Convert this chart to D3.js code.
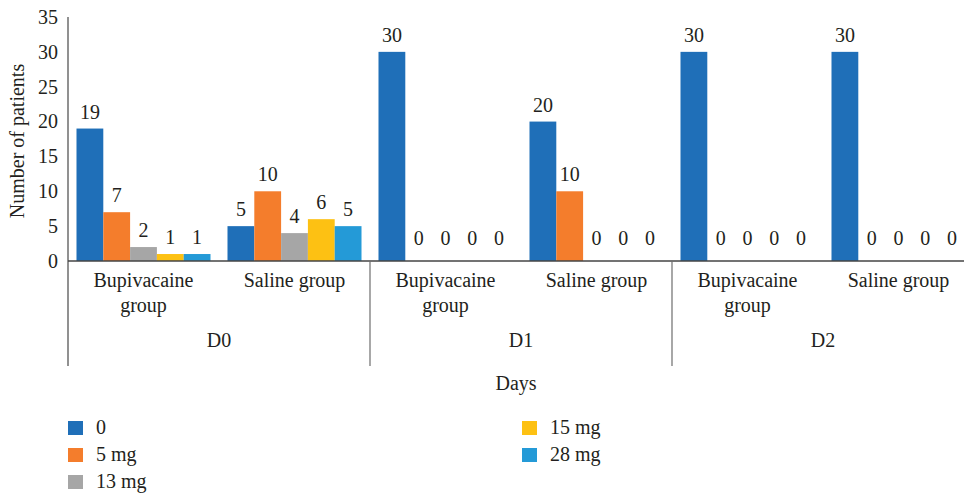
<!DOCTYPE html>
<html>
<head>
<meta charset="utf-8">
<script src="https://cdn.jsdelivr.net/npm/d3@7"></script>
<style>
  html, body { margin: 0; padding: 0; background: #fff; }
  svg { display: block; }
  text { font-family: "Liberation Serif", "DejaVu Serif", serif; fill: #231f20; }
</style>
</head>
<body>
<svg id="chart" width="964" height="493"></svg>
<script>
// Categories
const days = ["D0", "D1", "D2"];
const groups = ["Bupivacaine group", "Saline group"];
const doses = ["0", "5 mg", "13 mg", "15 mg", "28 mg"];
const doseColors = ["#1f6fb8", "#f47d2c", "#a6a6a6", "#fdc113", "#249ad7"];

// Patient counts per dose, ordered D0 Bupivacaine, D0 Saline, D1 Bupivacaine, D1 Saline, D2 Bupivacaine, D2 Saline
const dose0 = [19, 5, 30, 20, 30, 30];
const dose5 = [7, 10, 0, 10, 0, 0];
const dose13 = [2, 4, 0, 0, 0, 0];
const dose15 = [1, 6, 0, 0, 0, 0];
const dose28 = [1, 5, 0, 0, 0, 0];
const yTicks = [0, 5, 10, 15, 20, 25, 30, 35];

const seriesValues = [dose0, dose5, dose13, dose15, dose28];
const cells = [];
days.forEach(d => groups.forEach(g => cells.push({ day: d, group: g, key: d + "|" + g })));

const svg = d3.select("#chart");
const plotLeft = 68, plotRight = 974, plotTop = 17, plotBottom = 261;
const fontSize = 20;

const x = d3.scaleBand().domain(cells.map(c => c.key)).range([plotLeft, plotRight]);
const xDay = d3.scaleBand().domain(days).range([plotLeft, plotRight]);
const xDose = d3.scaleBand().domain(doses).range([0, x.bandwidth()]).paddingOuter(0.317);
const y = d3.scaleLinear().domain([0, 35]).range([plotBottom, plotTop]);

// Bars
const barData = [];
cells.forEach((c, i) => doses.forEach((s, j) => barData.push({ cell: c.key, dose: s, color: doseColors[j], value: seriesValues[j][i] })));

svg.append("g").selectAll("rect").data(barData).join("rect")
  .attr("x", d => x(d.cell) + xDose(d.dose))
  .attr("y", d => y(d.value))
  .attr("width", xDose.bandwidth())
  .attr("height", d => y(0) - y(d.value))
  .attr("fill", d => d.color);

// Value labels
svg.append("g").selectAll("text").data(barData).join("text")
  .attr("x", d => x(d.cell) + xDose(d.dose) + xDose.bandwidth() / 2)
  .attr("y", d => y(d.value) - (d.value === 0 ? 16 : 10))
  .attr("text-anchor", "middle")
  .attr("font-size", fontSize)
  .text(d => d.value);

// Y axis
const yAxis = d3.axisLeft(y).tickValues(yTicks).tickSize(0).tickPadding(10);
const yg = svg.append("g").attr("transform", `translate(${plotLeft},0)`).call(yAxis);
yg.select(".domain").remove();
yg.selectAll("text").attr("font-size", fontSize).attr("font-family", "Liberation Serif").attr("fill", "#231f20");

svg.append("line").attr("x1", plotLeft).attr("x2", plotLeft).attr("y1", y(35)).attr("y2", 366)
  .attr("stroke", "#6d6d6d").attr("stroke-width", 1.5);

// X axis baseline
svg.append("line").attr("x1", plotLeft).attr("x2", plotRight).attr("y1", y(0)).attr("y2", y(0))
  .attr("stroke", "#444").attr("stroke-width", 1.5);

// Day separators
svg.append("g").selectAll("line").data(days.slice(1)).join("line")
  .attr("x1", d => xDay(d)).attr("x2", d => xDay(d))
  .attr("y1", y(0)).attr("y2", 366)
  .attr("stroke", "#6d6d6d").attr("stroke-width", 1.2);

// Group labels (wrapped)
svg.append("g").selectAll("text").data(cells).join("text")
  .attr("x", d => x(d.key) + x.bandwidth() / 2)
  .attr("y", 287)
  .attr("text-anchor", "middle")
  .attr("font-size", fontSize)
  .each(function (d) {
    const t = d3.select(this);
    const cx = x(d.key) + x.bandwidth() / 2;
    const words = d.group.split(" ");
    let line = [];
    let tspan = t.append("tspan").attr("x", cx).attr("dy", 0);
    words.forEach(w => {
      line.push(w);
      tspan.text(line.join(" "));
      if (tspan.node().getComputedTextLength() > 135 && line.length > 1) {
        line.pop();
        tspan.text(line.join(" "));
        line = [w];
        tspan = t.append("tspan").attr("x", cx).attr("dy", 25).text(w);
      }
    });
  });

// Day labels
svg.append("g").selectAll("text").data(days).join("text")
  .attr("x", d => xDay(d) + xDay.bandwidth() / 2)
  .attr("y", 347)
  .attr("text-anchor", "middle")
  .attr("font-size", fontSize)
  .text(d => d);

// Axis titles
svg.append("text").attr("x", (plotLeft + plotRight) / 2 - 5).attr("y", 390)
  .attr("text-anchor", "middle").attr("font-size", fontSize).text("Days");
svg.append("text").attr("transform", `translate(24,${(plotTop + plotBottom) / 2 + 2}) rotate(-90)`)
  .attr("text-anchor", "middle").attr("font-size", fontSize).text("Number of patients");

// Legend
const legendPos = [
  { x: 68, y: 428 }, { x: 68, y: 455 }, { x: 68, y: 482 },
  { x: 522, y: 428 }, { x: 522, y: 455 }
];
const lg = svg.append("g").selectAll("g").data(doses).join("g")
  .attr("transform", (d, i) => `translate(${legendPos[i].x},${legendPos[i].y})`);
lg.append("rect").attr("x", 0).attr("y", -7).attr("width", 15).attr("height", 14)
  .attr("fill", (d, i) => doseColors[i]);
lg.append("text").attr("x", 28).attr("y", 6).attr("font-size", fontSize).text(d => d);
</script>
</body>
</html>
